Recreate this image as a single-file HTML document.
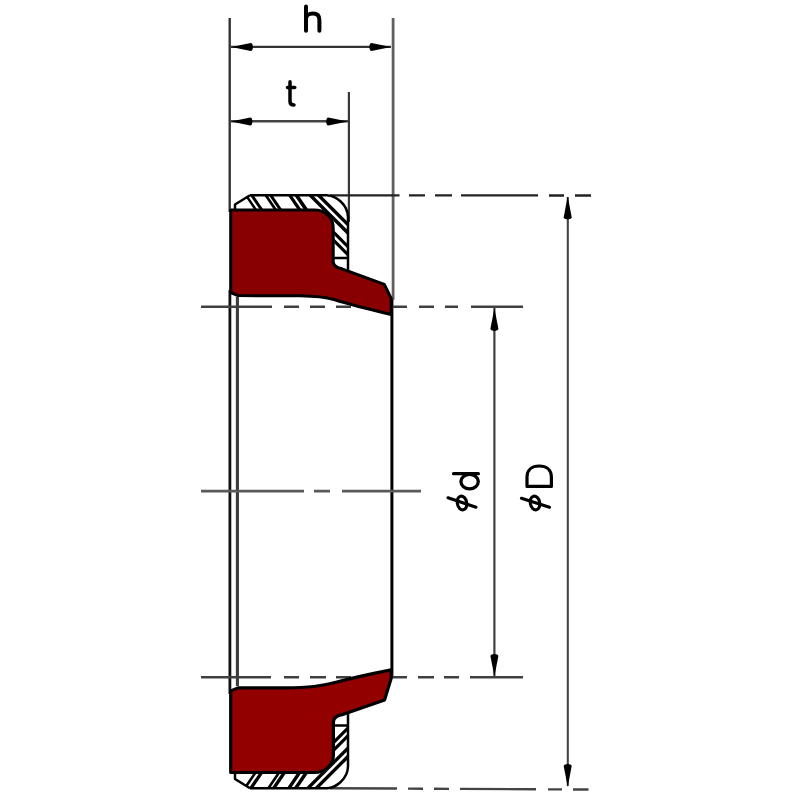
<!DOCTYPE html>
<html><head><meta charset="utf-8"><title>Seal drawing</title>
<style>
html,body{margin:0;padding:0;background:#fff;}
body{width:800px;height:800px;overflow:hidden;font-family:"Liberation Sans",sans-serif;}
svg{display:block;filter:blur(0.4px);}
</style></head>
<body>
<svg width="800" height="800" viewBox="0 0 800 800">
<defs>
  <clipPath id="mclip"><path d="M250,195.2 L327,195.2 C336,196 347.5,204 348,217 L348,258 L334.2,258 L334.2,228 C334.2,217 325,209.5 314,209.5 L235,210 L235,204.5 Z"/></clipPath>
  <g id="sealT">
    <g clip-path="url(#mclip)" stroke="#000" stroke-linecap="butt"><line x1="242.4" y1="190" x2="260.1" y2="216" stroke-width="2.5"/><line x1="248.2" y1="190" x2="265.9" y2="216" stroke-width="3.0"/><line x1="262.2" y1="190" x2="279.9" y2="216" stroke-width="2.7"/><line x1="267.1" y1="190" x2="284.8" y2="216" stroke-width="3.0"/><line x1="286.2" y1="190" x2="303.9" y2="216" stroke-width="3.2"/><line x1="292.8" y1="190" x2="310.5" y2="216" stroke-width="3.6"/><line x1="300.0" y1="185.0" x2="362.0" y2="247.0" stroke-width="3.4"/><line x1="300.0" y1="176.7" x2="362.0" y2="238.7" stroke-width="3.4"/><line x1="330.0" y1="228.7" x2="362.0" y2="260.7" stroke-width="3.2"/><line x1="330.0" y1="236.7" x2="362.0" y2="268.7" stroke-width="3.2"/></g>
    <path d="M250,195.2 L327,195.2 C336,196 347.5,204 348,217 L348,270 M334.2,258 H348 M250,195.2 L235,204.5 L235,210" fill="none" stroke="#000" stroke-width="2.5" stroke-linejoin="round"/>
  </g>
  <g id="sealB">
    <g clip-path="url(#mclip)" stroke="#000" stroke-linecap="butt"><line x1="241.2" y1="190" x2="258.9" y2="216" stroke-width="2.6"/><line x1="247.3" y1="190" x2="265.0" y2="216" stroke-width="3.3"/><line x1="264.8" y1="190" x2="282.5" y2="216" stroke-width="2.6"/><line x1="270.1" y1="190" x2="287.8" y2="216" stroke-width="3.4"/><line x1="285.3" y1="190" x2="303.0" y2="216" stroke-width="3.4"/><line x1="292.1" y1="190" x2="309.8" y2="216" stroke-width="3.5"/><line x1="300.0" y1="187.4" x2="362.0" y2="249.4" stroke-width="3.4"/><line x1="300.0" y1="179.0" x2="362.0" y2="241.0" stroke-width="3.4"/><line x1="330.0" y1="229.7" x2="362.0" y2="261.7" stroke-width="3.2"/><line x1="330.0" y1="237.4" x2="362.0" y2="269.4" stroke-width="3.2"/></g>
    <path d="M250,195.2 L327,195.2 C336,196 347.5,204 348,217 L348,270 M334.2,258 H348 M250,195.2 L235,204.5 L235,210" fill="none" stroke="#000" stroke-width="2.5" stroke-linejoin="round"/>
  </g>
</defs>

<!-- extension / center lines -->
<g stroke-linecap="butt" fill="none">
  <line x1="229.7" y1="18" x2="229.7" y2="212" stroke="#333" stroke-width="2.4"/>
  <line x1="229.9" y1="290" x2="229.9" y2="694" stroke="#111" stroke-width="2.8"/>
  <line x1="393.1" y1="18" x2="393.1" y2="300" stroke="#606060" stroke-width="2.8"/>
  <line x1="348.9" y1="92" x2="348.9" y2="222" stroke="#383838" stroke-width="2.2"/>
  <line x1="237.4" y1="297" x2="237.4" y2="686" stroke="#3c3c3c" stroke-width="3.1"/>
  <line x1="391.9" y1="300" x2="391.9" y2="678" stroke="#000" stroke-width="3"/>

  <!-- top horizontal extension -->
  <path d="M330,195.3 H399.5 M409,195.3 H425 M435,195.4 H452 M461,195.4 H538 M549,195.5 H564 M575,195.5 H591" stroke="#222" stroke-width="2.3"/>
  <!-- bottom horizontal extension -->
  <path d="M330,788.2 L397,788.5 M408,788.6 L423,788.7 M434,788.8 L449,788.9 M460,788.9 L536,789.3 M548,789.4 L562,789.4 M573,789.5 L588.5,789.5" stroke="#444" stroke-width="2.4"/>
  <!-- inner diameter dashed lines -->
  <path d="M201,306.8 H272 M284,306.8 H299 M310,306.8 H325 M336,306.8 H351 M362,306.8 H377 M391,306.8 H407 M419,306.8 H434 M445,306.8 H458 M471,306.8 H523" stroke="#404040" stroke-width="2.4"/>
  <path d="M201,677.2 H271 M284,677.2 H299 M310,677.2 H326 M336,677.2 H351 M362,677.2 H377 M391,677.2 H407 M418,677.2 H434 M444,677.2 H459 M470,677.2 H523" stroke="#404040" stroke-width="2.4"/>
  <!-- center line -->
  <path d="M201,491.1 H304 M314,491.1 H330 M342,491.1 H421" stroke="#5a5a5a" stroke-width="2.6"/>

  <!-- dimension lines -->
  <line x1="231" y1="46.9" x2="391" y2="46.9" stroke="#333" stroke-width="2.2"/>
  <line x1="231" y1="121.3" x2="348" y2="121.3" stroke="#444" stroke-width="2.5"/>
  <line x1="494.4" y1="308" x2="494.4" y2="676" stroke="#404040" stroke-width="2.2"/>
  <line x1="567.8" y1="197" x2="567.8" y2="786" stroke="#454545" stroke-width="2.1"/>
</g>

<!-- seals -->
<use href="#sealT"/>
<path d="M230.7,210 L314,210 C325,210 333.2,217 333.2,228 L333.2,262 Q334,267.5 342,268.8 L384.3,284.4 L391.2,298.3 L391.2,314.5 C372,310 350,304.5 334,299.5 Q322,296.2 300,295.8 L238,295.6 L230.7,292.5 Z" fill="#890000" stroke="#000" stroke-width="3" stroke-linejoin="round"/>
<g transform="translate(0,983.5) scale(1,-1)">
  <use href="#sealB"/>
  <path d="M230.7,211 L314,211 C325,211 333.4,218 333.4,229 L333.4,262 Q334.2,267.5 342,268.8 L384.6,283.6 L391.2,305.2 L391.2,313.6 C373,310 352,305.5 336,301.2 Q325,298.2 314,297 Q302,295.8 285,295.7 L238,295.6 L230.7,292.5 Z" fill="#930000" stroke="#000" stroke-width="3.2" stroke-linejoin="round"/>
</g>

<!-- arrows -->
<g fill="#000">
  <path d="M231.3,47.0 L250.8,51.0 C253.6,51.0 253.6,43.0 250.8,43.0 Z"/>
  <path d="M391.0,47.0 L371.5,43.0 C368.7,43.0 368.7,51.0 371.5,51.0 Z"/>
  <path d="M230.8,121.4 L250.3,125.4 C253.1,125.4 253.1,117.4 250.3,117.4 Z"/>
  <path d="M347.8,121.4 L328.3,117.4 C325.5,117.4 325.5,125.4 328.3,125.4 Z"/>
  <path d="M494.4,308.3 L490.4,328.8 C490.4,331.6 498.4,331.6 498.4,328.8 Z"/>
  <path d="M494.4,676.5 L498.4,656.0 C498.4,653.2 490.4,653.2 490.4,656.0 Z"/>
  <path d="M567.7,196.2 L563.7,217.2 C563.7,220.0 571.7,220.0 571.7,217.2 Z"/>
  <path d="M567.7,787.0 L571.7,766.0 C571.7,763.2 563.7,763.2 563.7,766.0 Z"/>
</g>

<!-- letters -->
<g fill="none" stroke="#000" stroke-linecap="round" stroke-linejoin="round">
  <path d="M306,6.4 V30.8 M306,19 C306,15.5 309,13.6 312.8,13.6 C317,13.6 319.4,16 319.4,20 V30.8" stroke-width="4"/>
  <path d="M290,81.8 V101.5 Q290,105 294,105 M287.5,87.5 H294.8" stroke-width="3.5"/>
  <!-- phi d -->
  <path d="M453.5,473.7 H478.4" stroke-width="3.2"/>
  <ellipse cx="469.6" cy="481.6" rx="8.7" ry="7.3" stroke-width="3.3"/>
  <ellipse cx="462" cy="503" rx="4.7" ry="7" stroke-width="3.1" transform="rotate(-12 462 503)"/>
  <path d="M448,497.8 L476,507.2" stroke-width="3.1"/>
  <!-- phi D -->
  <path d="M527,486.4 V477 C527,470 532,466 539.2,466 C546.4,466 551.4,470 551.4,477 V486.4 Z" stroke-width="3.2"/>
  <ellipse cx="535" cy="503" rx="4.7" ry="7" stroke-width="3.1" transform="rotate(-12 535 503)"/>
  <path d="M521.4,498.3 L549.5,507.3" stroke-width="3.1"/>
</g>
</svg>
</body></html>
